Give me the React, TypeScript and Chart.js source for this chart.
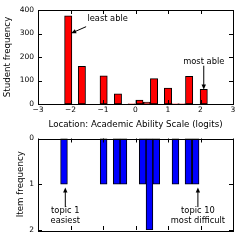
import React, { useEffect, useRef } from 'react';
import { Chart, registerables } from 'chart.js';
Chart.register(...registerables);

const studentLocations = [-2.07, -1.65, -0.98, -0.54, -0.12, 0.12, 0.35, 0.57, 1.0, 1.22, 1.43, 1.65, 2.1];
const studentCounts = [375, 160, 120, 43, 1, 17, 8, 108, 68, 1, 1, 118, 62];
const itemLocations = [-2.2, -0.98, -0.58, -0.37, 0.22, 0.43, 0.64, 1.23, 1.63, 1.85];
const itemCounts = [1, 1, 1, 1, 1, 2, 1, 1, 1, 1];
const xTicks = [-3, -2, -1, 0, 1, 2, 3];
const studentTicks = [0, 100, 200, 300, 400];
const itemTicks = [0, 1, 2];

const topNotes = [
  { lines: ['least able'], tx: -1.48, ty: 362, align: 'left', from: [-1.52, 329], to: [-1.98, 301] },
  { lines: ['most able'], tx: 2.1, ty: 180, align: 'center', from: [2.1, 163], to: [2.1, 62] },
];
const bottomNotes = [
  { lines: ['topic 1', 'easiest'], tx: -2.16, ty: 1.58, align: 'center', from: [-2.16, 1.5], to: [-2.16, 1.07] },
  { lines: ['topic 10', 'most difficult'], tx: 1.92, ty: 1.58, align: 'center', from: [1.92, 1.5], to: [1.92, 1.07] },
];

const FONT = 'DejaVu Sans';
const fmt = (v: number) => (v < 0 ? '\u2212' + Math.abs(v) : String(v));

function framePlugin(yTicks: number[], notes: any[]) {
  return {
    id: 'frame',
    afterDatasetsDraw(chart: any) {
      const { ctx, chartArea: a, scales } = chart;
      const xs = scales.x, ys = scales.y;
      ctx.save();
      ctx.strokeStyle = '#000';
      ctx.lineWidth = 1;
      ctx.strokeRect(Math.round(a.left) + 0.5, Math.round(a.top) + 0.5, Math.round(a.right - a.left), Math.round(a.bottom - a.top));
      const L = 4;
      ctx.beginPath();
      xTicks.forEach((t) => {
        const px = Math.round(xs.getPixelForValue(t)) + 0.5;
        ctx.moveTo(px, a.top); ctx.lineTo(px, a.top + L);
        ctx.moveTo(px, a.bottom); ctx.lineTo(px, a.bottom - L);
      });
      yTicks.forEach((t) => {
        const py = Math.round(ys.getPixelForValue(t)) + 0.5;
        ctx.moveTo(a.left, py); ctx.lineTo(a.left + L, py);
        ctx.moveTo(a.right, py); ctx.lineTo(a.right - L, py);
      });
      ctx.stroke();
      ctx.font = `8.3px "${FONT}"`;
      ctx.fillStyle = '#000';
      ctx.textBaseline = 'middle';
      notes.forEach((n) => {
        ctx.textAlign = n.align;
        const x = xs.getPixelForValue(n.tx);
        const y = ys.getPixelForValue(n.ty);
        n.lines.forEach((ln: string, i: number) => ctx.fillText(ln, x, y + i * 10));
        const x1 = xs.getPixelForValue(n.from[0]), y1 = ys.getPixelForValue(n.from[1]);
        const x2 = xs.getPixelForValue(n.to[0]), y2 = ys.getPixelForValue(n.to[1]);
        const ang = Math.atan2(y2 - y1, x2 - x1);
        ctx.beginPath();
        ctx.moveTo(x1, y1); ctx.lineTo(x2 - 3 * Math.cos(ang), y2 - 3 * Math.sin(ang));
        ctx.stroke();
        ctx.beginPath();
        ctx.moveTo(x2, y2);
        ctx.lineTo(x2 - 5 * Math.cos(ang) + 2.2 * Math.sin(ang), y2 - 5 * Math.sin(ang) - 2.2 * Math.cos(ang));
        ctx.lineTo(x2 - 5 * Math.cos(ang) - 2.2 * Math.sin(ang), y2 - 5 * Math.sin(ang) + 2.2 * Math.cos(ang));
        ctx.closePath();
        ctx.fill();
      });
      ctx.restore();
    },
  };
}

export default function App() {
  const topRef = useRef<HTMLCanvasElement>(null);
  const botRef = useRef<HTMLCanvasElement>(null);

  useEffect(() => {
    const tickFont = { family: FONT, size: 7.5 };
    const titleFont = { family: FONT, size: 8.7 };
    const top = new Chart(topRef.current!, {
      type: 'bar',
      data: {
        datasets: [{
          data: studentLocations.map((x, i) => ({ x, y: studentCounts[i] })),
          backgroundColor: '#ff0000',
          borderColor: '#000',
          borderWidth: 1,
          borderSkipped: false,
          barThickness: 7.3,
        }],
      },
      options: {
        responsive: false,
        animation: false,
        events: [],
        layout: { padding: { top: 10, right: 9, left: 0, bottom: 0 } },
        plugins: { legend: { display: false }, tooltip: { enabled: false } },
        scales: {
          x: {
            type: 'linear', min: -3, max: 3, offset: false,
            afterBuildTicks: (s: any) => { s.ticks = xTicks.map((v) => ({ value: v })); },
            ticks: { font: tickFont, color: '#000', padding: 2, maxRotation: 0, callback: (v: any) => fmt(Number(v)) },
            grid: { display: false, drawTicks: false },
            border: { display: false },
            title: { display: true, text: 'Location: Academic Ability Scale (logits)', font: titleFont, color: '#000', padding: { top: 0, bottom: 0 } },
            afterFit: (s: any) => { s.height = 26; },
          },
          y: {
            min: 0, max: 400,
            afterBuildTicks: (s: any) => { s.ticks = studentTicks.map((v) => ({ value: v })); },
            ticks: { font: tickFont, color: '#000', padding: 4 },
            grid: { display: false, drawTicks: false },
            border: { display: false },
            title: { display: true, text: 'Student frequency', font: titleFont, color: '#000', padding: { top: 3, bottom: 0 } },
            afterFit: (s: any) => { s.width = 38; },
          },
        },
      } as any,
      plugins: [framePlugin(studentTicks, topNotes)],
    });
    const bot = new Chart(botRef.current!, {
      type: 'bar',
      data: {
        datasets: [{
          data: itemLocations.map((x, i) => ({ x, y: itemCounts[i] })),
          backgroundColor: '#0000ff',
          borderColor: '#000',
          borderWidth: 1,
          borderSkipped: false,
          barThickness: 6.8,
        }],
      },
      options: {
        responsive: false,
        animation: false,
        events: [],
        layout: { padding: { top: 4, right: 9, left: 0, bottom: 11 } },
        plugins: { legend: { display: false }, tooltip: { enabled: false } },
        scales: {
          x: { type: 'linear', min: -3, max: 3, offset: false, display: false },
          y: {
            min: 0, max: 2, reverse: true,
            afterBuildTicks: (s: any) => { s.ticks = itemTicks.map((v) => ({ value: v })); },
            ticks: { font: tickFont, color: '#000', padding: 4 },
            grid: { display: false, drawTicks: false },
            border: { display: false },
            title: { display: true, text: 'Item frequency', font: titleFont, color: '#000', padding: { top: 16, bottom: 0 } },
            afterFit: (s: any) => { s.width = 38; },
          },
        },
      } as any,
      plugins: [framePlugin(itemTicks, bottomNotes)],
    });
    return () => { top.destroy(); bot.destroy(); };
  }, []);

  return (
    <div style={{ position: 'fixed', left: 0, top: 0, width: 242, height: 241, background: '#fff' }}>
      <canvas ref={topRef} width={242} height={130} style={{ position: 'absolute', left: 0, top: 0 }} />
      <canvas ref={botRef} width={242} height={111} style={{ position: 'absolute', left: 0, top: 130 }} />
    </div>
  );
}
